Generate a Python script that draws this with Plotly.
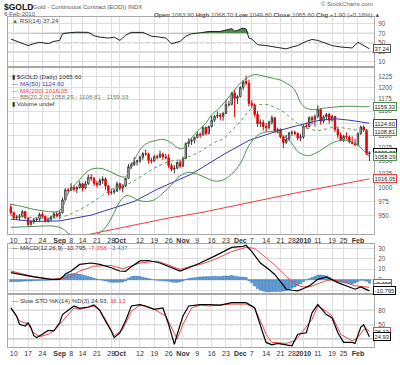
import math
import pandas as pd
import plotly.graph_objects as go

# ---------------- data ----------------
holidays = ["2009-09-07", "2009-11-26", "2009-12-25", "2010-01-01", "2010-01-18"]
dates = [d.strftime("%Y-%m-%d") for d in pd.bdate_range("2009-08-07", "2010-02-05")
         if d.strftime("%Y-%m-%d") not in holidays]
prior_close = 966

opens = [965,955,946,947,949,957,946,935,940,943, 944,952,949,941,944,948,953,950,955,978,
         996,995,1000,997,1000,1007,999,1007,1019,1017, 1008,1005,1013,1016,1003,991,992,994,1007,999,
         1003,1017,1039,1043,1048,1050,1057,1064,1063,1051, 1050,1058,1057,1063,1058,1056,1041,1034,1036,1047,
         1040,1055,1084,1088,1090,1096,1102,1101,1116,1104, 1118,1131,1139,1141,1139,1145,1164,1164,1188,1177,
         1181,1201,1214,1210,1166,1163,1143,1124,1126,1118, 1116,1127,1136,1109,1112,1097,1086,1092,1105,1106,
         1104,1095,1097,1119,1118,1136,1132,1138,1153,1129, 1138,1143,1131,1139,1112,1101,1091,1098,1097,1087,
         1084,1081,1104,1117,1111,1063.9]
highs = [971,957,951,953,960,958,947,942,946,947, 955,957,950,946,950,957,957,959,982,999,
         999,1008,1004,1003,1012,1009,1012,1024,1025,1020, 1012,1017,1021,1019,1005,998,998,1011,1009,1006,
         1018,1044,1047,1057,1052,1060,1067,1072,1066,1056, 1062,1062,1070,1066,1064,1063,1045,1042,1049,1052,
         1058,1086,1094,1094,1098,1108,1106,1118,1118,1120, 1140,1142,1149,1146,1148,1174,1171,1191,1196,1184,
         1203,1217,1227,1218,1173,1166,1150,1133,1132,1125, 1130,1141,1138,1116,1114,1099,1101,1107,1110,1110,
         1106,1103,1122,1126,1139,1140,1143,1162,1156,1141, 1146,1146,1142,1140,1116,1106,1101,1106,1100,1098,
         1093,1106,1120,1120,1113,1068.7]
lows = [951,943,943,942,947,944,932,933,936,939, 941,946,938,938,940,946,947,944,954,976,
        989,994,993,990,998,993,997,1005,1012,1003, 1000,1004,1007,996,986,987,988,992,995,991,
        1001,1016,1035,1040,1041,1046,1052,1060,1045,1045, 1048,1053,1055,1052,1053,1036,1030,1026,1034,1036,
        1038,1053,1077,1081,1084,1094,1095,1099,1100,1102, 1116,1127,1135,1131,1130,1144,1159,1162,1137,1165,
        1179,1195,1205,1160,1156,1138,1117,1117,1110,1108, 1112,1122,1105,1104,1094,1075,1083,1089,1099,1100,
        1090,1088,1093,1114,1116,1122,1118,1136,1122,1125, 1132,1124,1128,1107,1094,1088,1087,1092,1084,1082,
        1079,1080,1101,1107,1061,1049.8]
closes = [955,946,947,949,957,946,935,940,943,944, 952,949,941,944,948,953,950,955,978,996,
          995,1000,997,1000,1007,999,1007,1019,1017,1008, 1005,1013,1016,1003,991,992,994,1007,999,1003,
          1017,1039,1043,1048,1050,1057,1064,1063,1051,1050, 1058,1057,1063,1058,1056,1041,1034,1036,1047,1040,
          1055,1084,1088,1090,1096,1102,1101,1116,1104,1118, 1131,1139,1141,1139,1145,1164,1164,1188,1177,1181,
          1201,1212,1210,1166,1163,1143,1124,1126,1118,1116, 1127,1136,1109,1112,1097,1086,1092,1105,1106,1104,
          1095,1097,1119,1118,1136,1132,1138,1153,1129,1138, 1143,1131,1139,1112,1101,1091,1098,1097,1087,1084,
          1081,1104,1117,1111,1063.7,1065.6]

ma50_dates = ["08-07","08-19","09-01","09-17","10-08","10-20","11-05","11-20","12-04","12-18","12-30","01-11","01-20","01-27","02-05"]
ma50_vals = [944,940,941,951,975,997,1025,1062,1090,1109,1120,1130,1134,1131,1124.60]

ma200_dates = ["09-11","09-24","10-12","10-26","11-10","12-01","12-15","12-30","01-14","01-27","02-05"]
ma200_vals = [915,924,937,946,955,970,980,991,1001,1009,1016.05]

bbu_dates = ["08-07","08-13","08-19","08-25","08-31","09-02","09-04","09-09","09-11","09-15","09-17","09-21","09-23","09-25",
             "09-29","10-01","10-05","10-07","10-09","10-13","10-15","10-19","10-22","10-27","10-29","11-02","11-04","11-06",
             "11-10","11-12","11-16","11-18","11-20","11-24","11-27","12-01","12-03","12-07","12-09","12-11","12-15","12-17",
             "12-21","12-23","12-28","12-29","12-30","12-31","01-05","01-08","01-13","01-19","01-25","01-29","02-03","02-05"]
bbu_vals = [970,966,961,958,957,965,990,1003,1015,1027,1034,1036,1035,1031,
            1026,1021,1020,1040,1062,1078,1086,1089,1092,1085,1076,1074,1088,1102,
            1114,1125,1142,1152,1165,1180,1195,1210,1220,1228,1229,1226,1223,1220,
            1217,1210,1202,1195,1182,1168,1156,1153,1156,1158,1160,1160,1159,1159.33]

bbm_dates = ["08-07","08-14","08-21","08-28","09-02","09-04","09-10","09-15","09-18","09-23","09-28","10-01","10-06","10-09",
             "10-14","10-19","10-22","10-27","10-30","11-04","11-09","11-12","11-17","11-20","11-25","12-01","12-04","12-09",
             "12-14","12-17","12-22","12-28","12-31","01-06","01-11","01-14","01-20","01-25","01-28","02-02","02-05"]
bbm_vals = [950,948,946,946,948,951,958,966,976,986,996,1003,1007,1016,
            1026,1036,1044,1050,1052,1058,1065,1075,1086,1093,1110,1128,1150,1162,
            1164,1158,1148,1134,1120,1113,1110,1113,1117,1115,1112,1110,1108.81]

bbl_dates = ["08-07","08-14","08-21","08-28","09-02","09-04","09-10","09-15","09-21","09-24","09-29","10-01","10-05","10-07",
             "10-09","10-14","10-19","10-22","10-27","10-30","11-04","11-09","11-12","11-17","11-20","11-25","12-01","12-04",
             "12-09","12-14","12-17","12-21","12-23","12-28","12-30","01-04","01-06","01-08","01-13","01-19","01-22","01-27",
             "02-01","02-03","02-05"]
bbl_vals = [930,931,932,932,928,920,915,915,918,930,955,975,985,984,
            978,975,978,990,1005,1022,1028,1025,1018,1012,1014,1025,1045,1080,
            1100,1107,1108,1103,1096,1084,1068,1062,1060,1064,1074,1085,1090,1089,
            1080,1070,1058.29]

rsi_dates = ["08-07","08-11","08-12","08-17","08-19","08-21","08-26","08-28","09-01","09-02","09-04","09-10","09-16","09-18",
             "09-22","09-25","09-29","10-01","10-05","10-07","10-13","10-14","10-16","10-21","10-23","10-27","10-30","11-03",
             "11-05","11-10","11-13","11-19","11-23","11-25","11-27","11-30","12-01","12-02","12-03","12-04","12-07","12-08",
             "12-09","12-14","12-17","12-23","12-28","12-30","01-05","01-07","01-11","01-14","01-19","01-22","01-28","02-01",
             "02-03","02-05"]
rsi_vals = [58,53,50,44,48,51,48,53,55,69,71,72.5,72,65,
            62,60,62,55,66,72,72,69,64,62,60,48,53,64,
            69,71,74,74,77,80,75,76,79,81,79,60,58,52,
            46,44,41,37,41,44,53,57,55,48,44,41,39,51,
            44,37.24]

macd_dates = ["08-07","08-12","08-19","08-27","09-01","09-02","09-03","09-08","09-11","09-17","09-22","09-28","10-01","10-05",
              "10-07","10-12","10-15","10-21","10-26","10-30","11-04","11-10","11-17","11-25","12-02","12-03","12-07","12-10",
              "12-15","12-17","12-21","12-23","12-28","12-30","01-04","01-06","01-11","01-14","01-21","01-27","01-29","02-02","02-05"]
macd_vals = [6.7,5,2.6,0.3,0.3,2.5,5.5,8.3,14.6,16,14.6,11.4,8.3,8.0,
             12.5,18,18.4,16,13,8.3,11.4,16,22.6,31,32,33,27,16,
             9.8,5,-2,-9.2,-10.2,-10.8,-8.5,-6,0.3,2.6,-2.9,-7,-9.2,-7,-10.795]

signal_dates = ["08-07","08-18","08-27","09-04","09-11","09-18","09-28","10-02","10-12","10-20","10-26","10-30","11-05","11-10",
                "11-17","11-25","12-03","12-08","12-14","12-17","12-23","12-28","12-30","01-04","01-06","01-11","01-14","01-19",
                "01-21","01-26","01-29","02-02","02-05"]
signal_vals = [8.3,3.5,0.3,1.9,8.3,13,13.5,10.5,16,17.8,14,9.8,13,14.6,
               19.3,27,31,30,21,14,3,-1.9,-5.5,-7.0,-7.0,-4.3,-1.0,-0.2,
               -1.0,-3.1,-5.9,-6.5,-7.358]

hist_vals = [-2.0,-1.9,-1.8,-1.7,-1.5,-1.4,-1.3,-1.2,-1.0,-0.9,
             -0.8,-0.7,-0.6,-0.5,-0.4,-0.3,-0.3,0.2,2.5,4.5,
             5.5,5.6,5.8,5.5,5.2,4.5,3.8,3.0,2.2,1.3,
             0.6,0.0,-0.6,-1.2,-1.9,-2.4,-2.6,-2.4,-2.5,-2.2,
             -1.2,1.5,2.8,3.4,3.2,3.0,2.4,1.6,1.0,0.3,
             -0.2,-0.6,-0.9,-1.0,-1.4,-1.5,-2.2,-2.6,-2.5,-2.0,
             -1.2,0.2,1.0,1.5,1.9,2.2,2.6,2.7,2.8,2.8,
             3.0,3.2,3.1,2.9,3.3,3.5,3.4,4.0,3.2,2.9,
             2.6,2.4,2.0,-1.0,-3.0,-6.0,-8.5,-10.0,-11.0,-11.5,
             -11.8,-11.5,-11.5,-11.5,-11.5,-11.0,-10.5,-9.5,-8.3,-7.0,
             -5.6,-3.9,-1.9,-0.3,0.9,2.0,3.2,4.4,4.5,4.2,
             3.6,2.4,0.7,-1.0,-1.9,-2.4,-2.7,-3.4,-3.9,-3.9,
             -3.3,-1.7,-0.5,-0.6,-1.5,-3.437]

stok_dates = ["08-07","08-11","08-12","08-14","08-17","08-18","08-19","08-20","08-24","08-26","08-28","09-01","09-02","09-08",
              "09-09","09-11","09-16","09-18","09-22","09-23","09-28","09-29","10-01","10-05","10-07","10-12","10-14","10-19",
              "10-22","10-26","10-28","10-29","11-02","11-04","11-10","11-13","11-19","11-25","12-03","12-07","12-08","12-11",
              "12-14","12-16","12-18","12-23","12-28","12-30","01-05","01-07","01-11","01-12","01-14","01-19","01-21","01-25",
              "01-28","01-29","02-02","02-03","02-04","02-05"]
stok_vals = [85,68,51,47,54,44,27,23,30,38,37,54,71,85,
             89,84,87,91,80,68,37,23,33,58,89,92,89,82,
             85,51,9,30,68,89,92,92,91,96,96,89,85,30,
             13,8,11,8,6,30,33,75,92,85,71,64,33,13,
             13,11,45,50,38,24.93]

stod_dates = ["08-07","08-12","08-17","08-19","08-21","08-26","08-28","09-01","09-04","09-09","09-11","09-18","09-22","09-24",
              "09-29","10-02","10-07","10-12","10-19","10-23","10-29","11-02","11-05","11-10","11-13","11-25","12-03","12-08",
              "12-14","12-16","12-23","12-29","12-31","01-07","01-11","01-14","01-19","01-22","01-28","02-01","02-03","02-04","02-05"]
stod_vals = [85,58,51,33,25,30,37,51,71,85,82,89,81,61,
             27,40,78,91,82,68,20,51,85,91,89,93,93,85,
             30,13,11,16,30,61,89,78,68,30,16,23,40,41,36.13]

tick_dates = ["08-10","08-17","08-24","09-01","09-08","09-14","09-21","09-28","10-01","10-12","10-19","10-26","11-02",
              "11-09","11-16","11-23","12-01","12-07","12-14","12-21","12-28","01-04","01-11","01-19","01-25","02-01"]
tick_labels = ["10","17","24","<b>Sep</b>","8","14","21","28","<b>Oct</b>","12","19","26","<b>Nov</b>",
               "9","16","23","<b>Dec</b>","7","14","21","28","<b>2010</b>","11","19","25","<b>Feb</b>"]

price_ticks = [950, 975, 1000, 1025, 1050, 1075, 1100, 1125, 1150, 1175, 1200, 1225]

# ---------------- helpers ----------------
pos = {d: i for i, d in enumerate(dates)}


def iso(md):
    return ("2010-" if md[:2] in ("01", "02") else "2009-") + md


def xs(mds):
    return [pos[iso(m)] for m in mds]


W, H = 400, 365
L, R, T, B = 7, 24, 17, 15
PW, PH = W - L - R, H - T - B


def pxx(x):
    return (x - L) / PW


def pyy(y):
    return (H - B - y) / PH


FONT = "Liberation Sans Narrow, Liberation Sans, Arial, sans-serif"
GRID = "#dedede"
BORDER = "#a8a8a8"
GREEN = "#4f8f4f"
BLUE = "#3a3aa8"
RED_MA = "#f03c3c"
RED = "#e00000"
DARK = "#3a3a3a"

fig = go.Figure()

# ---------------- price candles ----------------
xall = list(range(len(dates)))
prev = [prior_close] + closes[:-1]
up = [i for i in xall if closes[i] >= prev[i]]
dn = [i for i in xall if closes[i] < prev[i]]
for idx, col in ((up, DARK), (dn, RED)):
    fig.add_trace(go.Candlestick(
        x=idx, open=[opens[i] for i in idx], high=[highs[i] for i in idx],
        low=[lows[i] for i in idx], close=[closes[i] for i in idx],
        increasing=dict(line=dict(color=col, width=1), fillcolor="white"),
        decreasing=dict(line=dict(color=col, width=1), fillcolor=col),
        whiskerwidth=0, xaxis="x2", yaxis="y2", showlegend=False, hoverinfo="skip"))

fig.add_trace(go.Scatter(x=xs(ma200_dates), y=ma200_vals, mode="lines", line=dict(color=RED_MA, width=1),
                         xaxis="x2", yaxis="y2"))
fig.add_trace(go.Scatter(x=xs(ma50_dates), y=ma50_vals, mode="lines", line=dict(color=BLUE, width=1),
                         xaxis="x2", yaxis="y2"))
fig.add_trace(go.Scatter(x=xs(bbu_dates), y=bbu_vals, mode="lines", line=dict(color=GREEN, width=1, shape="spline"),
                         xaxis="x2", yaxis="y2"))
fig.add_trace(go.Scatter(x=xs(bbl_dates), y=bbl_vals, mode="lines", line=dict(color=GREEN, width=1, shape="spline"),
                         xaxis="x2", yaxis="y2"))
fig.add_trace(go.Scatter(x=xs(bbm_dates), y=bbm_vals, mode="lines",
                         line=dict(color="#5a9a5a", width=1, dash="dot", shape="spline"), xaxis="x2", yaxis="y2"))

# ---------------- RSI ----------------
rx = xs(rsi_dates)
fig.add_trace(go.Scatter(x=rx, y=[70] * len(rx), mode="lines", line=dict(width=0), xaxis="x", yaxis="y"))
fig.add_trace(go.Scatter(x=rx, y=[max(v, 70) for v in rsi_vals], mode="lines", line=dict(width=0),
                         fill="tonexty", fillcolor="#4a8a4a", xaxis="x", yaxis="y"))
fig.add_trace(go.Scatter(x=rx, y=rsi_vals, mode="lines", line=dict(color="#222", width=1), xaxis="x", yaxis="y"))

# ---------------- MACD ----------------
fig.add_trace(go.Bar(x=xall, y=hist_vals, width=0.8,
                     marker=dict(color="#5d9fd6", line=dict(color="#2f6fae", width=0.5)),
                     xaxis="x3", yaxis="y3"))
fig.add_trace(go.Scatter(x=xs(signal_dates), y=signal_vals, mode="lines", line=dict(color="#f04848", width=1),
                         xaxis="x3", yaxis="y3"))
fig.add_trace(go.Scatter(x=xs(macd_dates), y=macd_vals, mode="lines", line=dict(color="#000", width=1.2),
                         xaxis="x3", yaxis="y3"))

# ---------------- Slow STO ----------------
fig.add_trace(go.Scatter(x=xs(stod_dates), y=stod_vals, mode="lines", line=dict(color="#f04848", width=1),
                         xaxis="x4", yaxis="y4"))
fig.add_trace(go.Scatter(x=xs(stok_dates), y=stok_vals, mode="lines", line=dict(color="#000", width=1.2),
                         xaxis="x4", yaxis="y4"))

# ---------------- axes ----------------
tick_pos = xs(tick_dates)
xrange = [-1.0, 126.6]


def xax(anchor, labels):
    return dict(domain=[0, 1], anchor=anchor, range=xrange, tickmode="array", tickvals=tick_pos,
                ticktext=tick_labels, showticklabels=labels, tickangle=0, ticks="",
                showgrid=True, gridcolor=GRID, gridwidth=1, zeroline=False,
                showline=True, linecolor=BORDER, linewidth=1, mirror=True,
                tickfont=dict(family=FONT, size=7, color="#333"), fixedrange=True)


def yax(dom, rng, ticks, typ="linear"):
    return dict(domain=dom, range=rng, type=typ, side="right", tickmode="array", tickvals=ticks,
                ticktext=[str(t) for t in ticks], ticks="", showgrid=True, gridcolor=GRID, gridwidth=1,
                zeroline=False, showline=True, linecolor=BORDER, linewidth=1, mirror=True,
                ticklabelstandoff=2,
                tickfont=dict(family=FONT, size=6.3, color="#555"), fixedrange=True)


x2 = xax("y2", True)
x2["rangeslider"] = dict(visible=False)
x2["matches"] = "x"
x3 = xax("y3", False)
x3["matches"] = "x"
x4 = xax("y4", True)
x4["matches"] = "x"

fig.update_layout(
    width=W, height=H, autosize=False,
    margin=dict(l=L, r=R, t=T, b=B, pad=0),
    paper_bgcolor="white", plot_bgcolor="white",
    showlegend=False, bargap=0.1,
    font=dict(family=FONT, size=7, color="#333"),
    xaxis=xax("y", False), xaxis2=x2, xaxis3=x3, xaxis4=x4,
    yaxis=yax([pyy(66), pyy(17)], [1.6, 104.7], [10, 30, 50, 70, 90]),
    yaxis2=yax([pyy(236), pyy(68)], [2.96318, 3.09521], price_ticks, "log"),
    yaxis3=yax([pyy(296), pyy(246)], [-13.3, 34.3], [-10, 0, 10, 20, 30]),
    yaxis4=yax([pyy(350), pyy(298)], [3.45, 111], [20, 50, 80]),
)

# reference lines
shapes = []
for yref, val, dash in (("y", 70, "solid"), ("y", 30, "solid"), ("y", 50, "dashdot"),
                        ("y4", 80, "solid"), ("y4", 20, "solid"), ("y4", 50, "dashdot"),
                        ("y3", 0, "solid")):
    shapes.append(dict(type="line", xref="x domain", x0=0, x1=1, yref=yref, y0=val, y1=val,
                       line=dict(color="#8c8c8c", width=1, dash=dash), layer="below"))
fig.update_layout(shapes=shapes)

ann = []


def text(x, y, s, size=6.5, color="#333", anchor="left"):
    ann.append(dict(xref="paper", yref="paper", x=pxx(x), y=pyy(y), text=s, showarrow=False,
                    xanchor=anchor, yanchor="middle", font=dict(family=FONT, size=size, color=color)))


def tag(yref, val, s, col, bold=False):
    ann.append(dict(xref="paper", yref=yref, x=pxx(375), y=val, text=("<b>%s</b>" % s) if bold else s,
                    showarrow=False, xanchor="left", yanchor="middle", bgcolor="white",
                    bordercolor=col, borderwidth=1, borderpad=0.5,
                    font=dict(family=FONT, size=5.8, color="#222")))


# header
text(1, 7, "<b>$GOLD</b>", size=8.5, color="#111")
text(28, 7, "(Gold - Continuous Contract (EOD)) INDX", size=6, color="#555")
text(1, 14, "6-Feb-2010", size=6, color="#555")
text(377, 4, "© StockCharts.com", size=6, color="#666", anchor="right")
text(384, 14, "<b>Open</b> 1063.90 <b>High</b> 1068.70 <b>Low</b> 1049.80 <b>Close</b> 1065.60 "
              "<b>Chg</b> +1.90 (+0.18%) ▲", size=6.2, color="#555", anchor="right")

# panel legends
text(9, 21, "<span style='color:#3d7d3d'>▲</span> RSI(14) 37.24", size=6.2, color="#444")
text(9, 77, "▮ $GOLD (Daily) 1065.60", size=6.2, color="#333")
text(9, 84, "<span style='color:%s'>—</span> MA(50) 1124.60" % BLUE, size=6.2, color=BLUE)
text(9, 91, "<span style='color:%s'>—</span> MA(200) 1016.05" % RED_MA, size=6.2, color=RED_MA)
text(9, 97.5, "<span style='color:%s'>—</span> BB(20,2.0) 1058.29 - 1108.81 - 1159.33" % GREEN, size=6.2,
     color="#6a7f6a")
text(9, 104, "▮ Volume undef", size=6.2, color="#333")
text(9, 250, "— MACD(12,26,9) -10.795, <span style='color:#f04848'>-7.358,</span> "
             "<span style='color:#3b7fc0'>-3.437</span>", size=6.2, color="#333")
text(9, 303, "— Slow STO %K(14) %D(3) 24.93, <span style='color:#f04848'>36.13</span>", size=6.2, color="#333")

# right-side value tags
tag("y", 37.24, "37.24", "#555")
tag("y2", math.log10(1159.33), "1159.33", GREEN)
tag("y2", math.log10(1124.60), "1124.60", BLUE)
tag("y2", math.log10(1108.81), "1108.81", GREEN)
tag("y2", math.log10(1065.60), "1065.60", "#000", bold=True)
tag("y2", math.log10(1058.29), "1058.29", GREEN)
tag("y2", math.log10(1016.05), "1016.05", RED_MA)
tag("y3", -3.437, "-3.437", "#3b7fc0")
tag("y3", -7.358, "-7.358", "#f04848")
tag("y3", -10.795, "-10.795", "#000")
tag("y4", 36.13, "36.13", "#f04848")
tag("y4", 24.93, "24.93", "#000")

fig.update_layout(annotations=ann)

fig.write_html("out.html", config={"displayModeBar": False},
               post_script="document.body.style.margin='0';document.body.style.padding='0';")
